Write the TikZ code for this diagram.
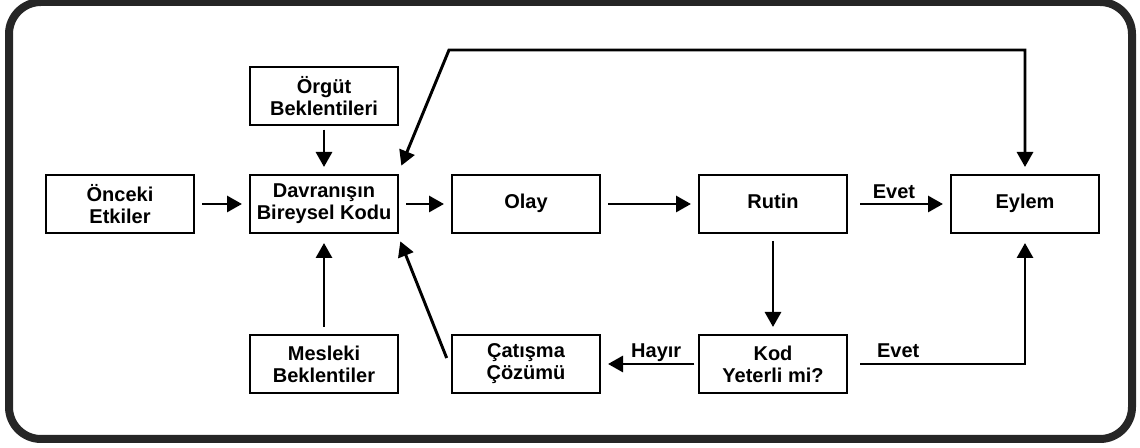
\documentclass[tikz,border=0pt]{standalone}
\usepackage{fontspec}
\setmainfont{Liberation Sans}
\usetikzlibrary{arrows.meta,calc}
\definecolor{framegray}{HTML}{262626}
\tikzset{mytri/.tip={Triangle[length=11.25pt,width=12pt]}}
\begin{document}
\begin{tikzpicture}[x=0.75pt,y=-0.75pt,
  box/.style={draw, line width=2pt, minimum width=111pt, minimum height=43.5pt,
    inner sep=0pt, align=center, font=\bfseries\fontsize{15}{16.5}\selectfont},
  single/.style={box, text height=0.72em, text depth=0pt},
  lbl/.style={anchor=base, inner sep=0pt, font=\bfseries\fontsize{15}{16.5}\selectfont},
  conn/.style={line width=2.2pt, -{mytri}, shorten <=5pt, shorten >=5pt},
  both/.style={line width=2.2pt, {mytri}-{mytri}, shorten <=0pt, shorten >=5pt}
]
\useasboundingbox (0,0) rectangle (1140,448);
% outer frame
\draw[line width=6pt, framegray, rounded corners=24pt] (9,2) rectangle (1132,439);

% boxes
\node[box]    (onceki)  at (120,204) {Önceki\\Etkiler};
\node[box]    (kod)     at (324,204) {Davranışın\\Bireysel Kodu};
\node[box]    (orgut)   at (324,96)  {Örgüt\\Beklentileri};
\node[box]    (mesleki) at (324,364) {Mesleki\\Beklentiler};
\node[single] (olay)    at (526,204) {Olay};
\node[single] (rutin)   at (773,204) {Rutin};
\node[single] (eylem)   at (1025,204) {Eylem};
\node[box]    (yeterli) at (773,364) {Kod\\Yeterli mi?};
\node[box]    (catisma) at (526,364) {Çatışma\\Çözümü};

% connectors
\draw[conn] (onceki) -- (kod);
\draw[conn] (kod) -- (olay);
\draw[conn] (olay) -- (rutin);
\draw[conn, shorten <=9pt] (rutin) -- node[lbl, pos=0.45, yshift=4pt] {Evet} (eylem);
\draw[conn, shorten <=2.5pt] (orgut) -- (kod);
\draw[conn, shorten >=6.5pt] (mesleki) -- (kod);
\draw[conn] (rutin) -- (yeterli);
\draw[conn, shorten <=2.5pt] (yeterli) -- node[lbl, pos=0.43, yshift=5pt] {Hayır} (catisma);

% conflict resolution back to the code
\coordinate (cstart) at ($(catisma.west)+(-4,-6)$);
\coordinate (kse) at ($(kod.south east)+(1,7)$);
\draw[conn, shorten <=0pt, shorten >=0pt] (cstart) -- (kse);

% code sufficient -> action
\coordinate (ystart) at ($(yeterli.east)+(12,0)$);
\draw[line width=2.2pt, -{mytri}, shorten >=6.5pt] (ystart) -- node[lbl, pos=0.23, yshift=5pt] {Evet} (ystart -| eylem.south) -- (eylem.south);

% feedback loop across the top
\coordinate (tl) at (449,50);
\coordinate (kne) at ($(kod.north east)+(2,-8)$);
\draw[both] (kne) -- (tl) -- (tl -| eylem.north) -- (eylem.north);
\end{tikzpicture}
\end{document}
